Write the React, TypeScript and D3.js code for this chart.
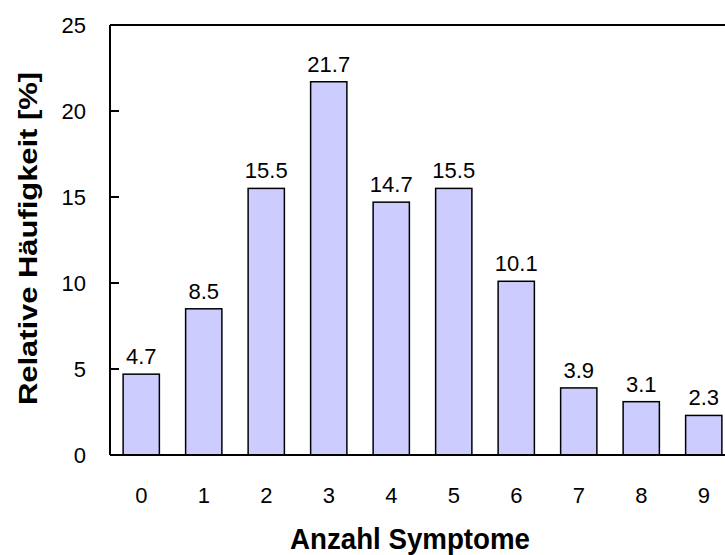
import React from "react";
import * as d3 from "d3";

const categories = ["0", "1", "2", "3", "4", "5", "6", "7", "8", "9"];
const values = [4.7, 8.5, 15.5, 21.7, 14.7, 15.5, 10.1, 3.9, 3.1, 2.3];
const yTicks = [0, 5, 10, 15, 20, 25];
const xTitle = "Anzahl Symptome";
const yTitle = "Relative Häufigkeit [%]";

const W = 725;
const H = 555;
const left = 110;
const top = 25;
const bottom = 455;
const rightBand = 735;

export default function App() {
  const x = d3.scaleBand<string>().domain(categories).range([left, rightBand]).paddingInner(0.42).paddingOuter(0.21);
  const y = d3.scaleLinear().domain([0, 25]).range([bottom, top]);
  const font = "'Liberation Sans', Arial, sans-serif";
  return (
    <svg width={W} height={H} style={{ position: "absolute", left: 0, top: 0 }} fontFamily={font}>
      <rect x={0} y={0} width={W} height={H} fill="#fff" />
      {values.map((v, i) => (
        <g key={i}>
          <rect
            x={x(categories[i])!}
            y={y(v)}
            width={x.bandwidth()}
            height={y(0) - y(v)}
            fill="#CCCCFF"
            stroke="#000"
            strokeWidth={1.5}
          />
          <text x={x(categories[i])! + x.bandwidth() / 2} y={y(v) - 10} textAnchor="middle" fontSize={22}>
            {v.toFixed(1)}
          </text>
        </g>
      ))}
      <line x1={left} x2={W} y1={y(25)} y2={y(25)} stroke="#000" strokeWidth={2} />
      <line x1={left} x2={W} y1={y(0)} y2={y(0)} stroke="#000" strokeWidth={2} />
      <line x1={left} x2={left} y1={y(25)} y2={y(0)} stroke="#000" strokeWidth={2} />
      {yTicks.map((t) => (
        <g key={t}>
          <line x1={left} x2={left + 9} y1={y(t)} y2={y(t)} stroke="#000" strokeWidth={2} />
          <text x={86} y={y(t)} dy="0.36em" textAnchor="end" fontSize={22}>
            {t}
          </text>
        </g>
      ))}
      {categories.map((c) => (
        <text key={c} x={x(c)! + x.bandwidth() / 2} y={503} textAnchor="middle" fontSize={22}>
          {c}
        </text>
      ))}
      <text
        x={410}
        y={549}
        textAnchor="middle"
        fontSize={29}
        fontWeight="bold"
        textLength={240}
        lengthAdjust="spacingAndGlyphs"
      >
        {xTitle}
      </text>
      <text
        transform={`translate(37,238.5) rotate(-90)`}
        textAnchor="middle"
        fontSize={26}
        fontWeight="bold"
        textLength={333}
        lengthAdjust="spacingAndGlyphs"
      >
        {yTitle}
      </text>
    </svg>
  );
}
